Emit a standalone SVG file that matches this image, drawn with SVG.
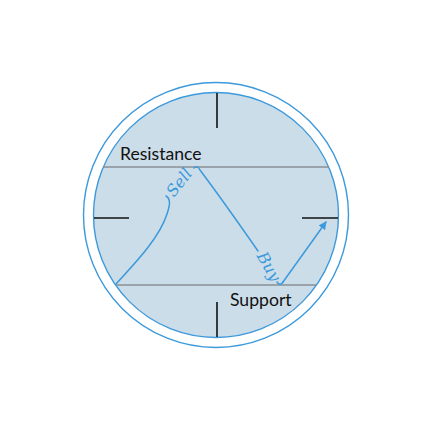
<svg xmlns="http://www.w3.org/2000/svg" width="432" height="432" viewBox="0 0 432 432">
<style>
.tick{stroke:#111;stroke-width:1.6;fill:none}
.level{stroke:#8a8f94;stroke-width:1.4;fill:none}
.trend{stroke:#3c99db;stroke-width:1.5;fill:none;stroke-linecap:round;stroke-linejoin:round}
.lbl{font-family:Lato,"Liberation Sans",sans-serif;font-size:17.6px;fill:#111}
.script{font-family:"DejaVu Serif","Liberation Serif",serif;font-style:italic;font-size:16px;fill:#3c99db}
</style>
<defs>
<marker id="ah" viewBox="0 0 10 10" refX="9" refY="5" markerWidth="8" markerHeight="8" orient="auto" markerUnits="userSpaceOnUse">
<path d="M0,0 L10,5 L0,10 z" fill="#3c99db"/>
</marker>
</defs>
<rect width="432" height="432" fill="#fff"/>
<g id="frame">
<circle cx="216" cy="215" r="132.5" fill="#fff" stroke="#3c99db" stroke-width="1.4"/>
<circle cx="216" cy="215" r="122.5" fill="#cbdde9" stroke="#3c99db" stroke-width="1.4"/>
<line class="tick" x1="217" y1="93" x2="217" y2="128"/>
<line class="tick" x1="217" y1="302" x2="217" y2="337"/>
<line class="tick" x1="94" y1="218" x2="129" y2="218"/>
<line class="tick" x1="302" y1="218" x2="338" y2="218"/>
</g>
<g id="resistance">
<line class="level" x1="103" y1="167" x2="329" y2="167"/>
<text class="lbl" x="120" y="160">Resistance</text>
</g>
<g id="support">
<line class="level" x1="116" y1="285" x2="316" y2="285"/>
<text class="lbl" x="230" y="306">Support</text>
</g>
<g id="connectors">
<path class="trend" d="M116,284 C140,258 160,236 167,214 C170,205 171,199 166,196"/>
<path class="trend" d="M194,168 C196,166 198,166 200,170 C215,190 235,218 258,251"/>
<path class="trend" d="M277,282 C279,285 281,285 283,282"/>
<path class="trend" d="M283,282 L326,222" marker-end="url(#ah)"/>
</g>
<g id="sell">
<text class="script" transform="translate(180,183) rotate(-52)" text-anchor="middle" dominant-baseline="middle">Sell</text>
</g>
<g id="buy">
<text class="script" transform="translate(268,267) rotate(60)" text-anchor="middle" dominant-baseline="middle">Buy</text>
</g>
</svg>
